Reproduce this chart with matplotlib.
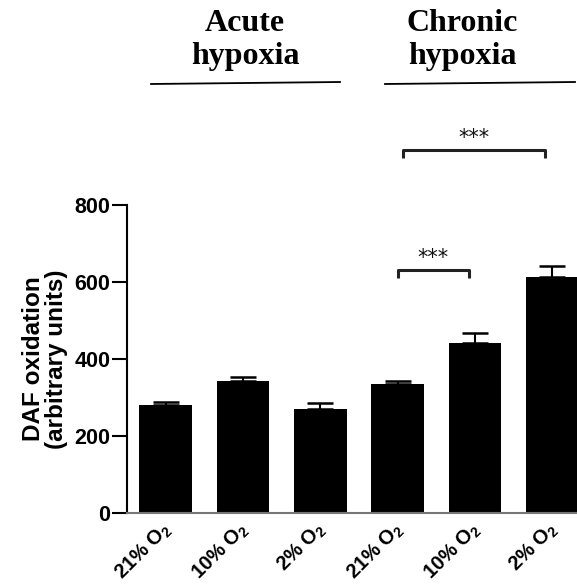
import matplotlib
matplotlib.use("Agg")
import matplotlib.pyplot as plt
from matplotlib.lines import Line2D
from matplotlib.transforms import ScaledTranslation

plt.rcParams['mathtext.fontset'] = 'custom'
plt.rcParams['mathtext.rm'] = 'Liberation Sans:bold'
plt.rcParams['mathtext.bf'] = 'Liberation Sans:bold'
plt.rcParams['mathtext.it'] = 'Liberation Sans:bold'

categories = ["21% O$_2$", "10% O$_2$", "2% O$_2$", "21% O$_2$", "10% O$_2$", "2% O$_2$"]
values = [280, 343, 270, 334, 441, 613]
errors = [8, 9, 17, 8, 26, 28]
groups = ["Acute\nhypoxia", "Chronic\nhypoxia"]
sig_pairs = [(3, 3.92, 631, "***"), (3.07, 4.9, 943, "***")]
yticks = [0, 200, 400, 600, 800]

W, H = 577, 587
fig = plt.figure(figsize=(W / 100, H / 100), dpi=100)
left_px, right_px, y0_px = 127, 577, 513
ax = fig.add_axes([left_px / W, (H - y0_px) / H, (right_px - left_px) / W, y0_px / H])

x = list(range(len(values)))
ax.bar(x, values, width=0.68, color='black', zorder=2)
ax.errorbar(x, values, yerr=[[0] * len(errors), errors], fmt='none', ecolor='black',
            elinewidth=1.5, capsize=9.5, capthick=1.8, zorder=1)

ax.set_xlim(-0.5, (right_px - 166) / 77.3)
ax.set_ylim(0, y0_px / 0.385)

for s in ['top', 'right']:
    ax.spines[s].set_visible(False)
ax.spines['left'].set_bounds(0, 800)
ax.spines['left'].set_linewidth(1.5)
ax.spines['bottom'].set_color('#777777')
ax.spines['bottom'].set_linewidth(1.5)

ax.set_yticks(yticks)
ax.set_yticklabels([str(v) for v in yticks], fontfamily='Liberation Sans', fontweight='bold', fontsize=15.5)
ax.tick_params(axis='y', length=11, width=1.5, pad=1)
ax.set_xticks(x)
ax.set_xticklabels(categories, rotation=45, ha='right', rotation_mode='anchor',
                   fontfamily='Liberation Sans', fontweight='bold', fontsize=14.5)
ax.tick_params(axis='x', length=0, pad=4)
for lab in ax.get_xticklabels():
    lab.set_transform(lab.get_transform() + ScaledTranslation(-0.05, 0, fig.dpi_scale_trans))

ax.set_ylabel("DAF oxidation\n(arbitrary units)", fontfamily='Liberation Sans', fontweight='bold',
              fontsize=17.5, linespacing=1.05)
ax.yaxis.set_label_coords(-0.13, 400 / (y0_px / 0.385))

# significance brackets
for x1, x2, yv, txt in sig_pairs:
    ax.plot([x1, x1, x2, x2], [yv - 20, yv, yv, yv - 20], color='#222222', lw=2.2,
            clip_on=False, solid_capstyle='butt')
    ax.text((x1 + x2) / 2, yv + 6, txt, ha='center', va='bottom', fontsize=15,
            fontfamily='DejaVu Sans', color='#111111')

# group headers
for cx, txt in zip([245, 462], groups):
    fig.text(cx / W, 1 - 40 / H, txt, ha='center', va='center', fontfamily='Liberation Serif',
             fontweight='bold', fontsize=23, linespacing=1.22)
fig.add_artist(Line2D([151 / W, 340 / W], [1 - 84 / H, 1 - 82 / H], color='black', lw=1.3))
fig.add_artist(Line2D([385 / W, 575 / W], [1 - 84 / H, 1 - 82 / H], color='black', lw=1.3))

fig.savefig("out.png", dpi=100)
